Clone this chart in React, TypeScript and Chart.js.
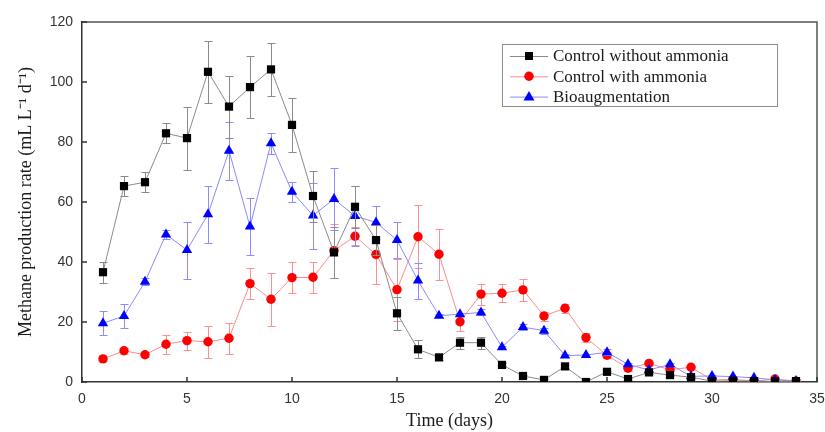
import React, { useEffect, useRef } from "react";
import { Chart, registerables } from "chart.js";

Chart.register(...registerables);

// ---- Data ----
const days = [1, 2, 3, 4, 5, 6, 7, 8, 9, 10, 11, 12, 13, 14, 15, 16, 17, 18, 19, 20, 21, 22, 23, 24, 25, 26, 27, 28, 29, 30, 31, 32, 33, 34];

const controlWithout = [36.6, 65.3, 66.6, 82.9, 81.3, 103.4, 91.8, 98.3, 104.2, 85.7, 62.0, 43.2, 58.4, 47.3, 22.9, 10.9, 8.2, 13.1, 13.1, 5.7, 2.0, 0.7, 5.2, 0.0, 3.4, 1.0, 3.2, 2.3, 1.6, 0.3, 0.4, 0.3, 0.2, 0.3];
const controlWithoutErr = [3.5, 3.4, 3.4, 3.3, 10.5, 10.4, 10.3, 10.4, 8.8, 8.9, 8.5, 8.5, 7.0, 5.0, 5.5, 3.0, 1.0, 2.0, 2.0, 0.5, 0.5, 0.3, 0.5, 0.2, 0.4, 0.3, 0.4, 0.3, 0.3, 0.2, 0.2, 0.2, 0.2, 0.2];

const controlWith = [7.7, 10.4, 9.1, 12.6, 13.8, 13.4, 14.6, 32.8, 27.6, 34.8, 34.9, 43.8, 48.6, 42.5, 30.8, 48.4, 42.6, 20.1, 29.3, 29.6, 30.7, 22.0, 24.6, 14.8, 8.9, 4.6, 6.2, 4.1, 4.9, 0.7, 0.9, 0.3, 1.0, 0.3];
const controlWithErr = [0.8, 1.0, 0.8, 3.2, 3.0, 5.3, 5.2, 5.1, 8.8, 5.2, 5.2, 9.0, 3.0, 9.7, 10.3, 10.5, 8.5, 3.0, 3.5, 3.0, 3.6, 1.5, 1.5, 1.5, 1.0, 1.0, 0.5, 0.5, 0.5, 0.3, 0.3, 0.2, 0.3, 0.2];

const bioaugmentation = [19.6, 22.0, 33.4, 49.2, 44.0, 55.9, 77.1, 51.8, 79.6, 63.4, 55.5, 61.0, 55.3, 53.2, 47.3, 33.8, 22.1, 22.6, 23.2, 11.6, 18.3, 17.1, 8.8, 9.0, 9.9, 5.9, 4.0, 5.9, 1.9, 2.0, 1.8, 1.4, 0.7, 0.3];
const bioaugmentationErr = [4.0, 4.0, 1.2, 1.5, 9.5, 9.4, 9.7, 9.5, 3.5, 3.4, 11.0, 10.5, 10.0, 5.6, 6.0, 6.0, 0.5, 0.5, 1.0, 0.5, 1.0, 1.0, 0.5, 0.5, 1.0, 0.5, 0.5, 0.5, 0.3, 0.3, 0.3, 0.3, 0.2, 0.2];

const seriesLabels = ["Control without ammonia", "Control with ammonia", "Bioaugmentation"];
const xTickMax = 35;
const yTickMax = 120;

const SERIF = "'Liberation Serif', 'Times New Roman', serif";
const SANS = "'Liberation Sans', Arial, sans-serif";

const styles = [
  { line: "#8a8a8a", err: "#8a8a8a", fill: "#000000", shape: "rect", radius: 5.8 },
  { line: "#ff8a8a", err: "#ff8f8f", fill: "#ff0000", shape: "circle", radius: 4.7 },
  { line: "#8a8aff", err: "#8c8cff", fill: "#0000ff", shape: "triangle", radius: 6 },
];

function drawMarker(ctx: CanvasRenderingContext2D, shape: string, x: number, y: number, color: string) {
  ctx.save();
  ctx.fillStyle = color;
  ctx.beginPath();
  if (shape === "rect") {
    ctx.rect(x - 4, y - 4, 8, 8);
  } else if (shape === "circle") {
    ctx.arc(x, y, 4.7, 0, Math.PI * 2);
  } else {
    ctx.moveTo(x, y - 5.5);
    ctx.lineTo(x + 5.5, y + 4);
    ctx.lineTo(x - 5.5, y + 4);
    ctx.closePath();
  }
  ctx.fill();
  ctx.restore();
}

const errorBarPlugin = {
  id: "errorBars",
  beforeDatasetDraw(chart: any, args: any) {
    const ds = chart.data.datasets[args.index];
    const errs: number[] = ds.errors;
    if (!errs) return;
    const xs = chart.scales.x;
    const ys = chart.scales.y;
    const ctx = chart.ctx as CanvasRenderingContext2D;
    ctx.save();
    ctx.strokeStyle = ds.errorColor;
    ctx.lineWidth = 1;
    ds.data.forEach((p: any, i: number) => {
      const e = errs[i];
      if (!e) return;
      const px = Math.round(xs.getPixelForValue(p.x)) + 0.5;
      const top = Math.round(ys.getPixelForValue(p.y + e)) + 0.5;
      const bot = Math.round(ys.getPixelForValue(Math.max(0, p.y - e))) + 0.5;
      ctx.beginPath();
      ctx.moveTo(px, top);
      ctx.lineTo(px, bot);
      ctx.moveTo(px - 4, top);
      ctx.lineTo(px + 4, top);
      ctx.moveTo(px - 4, bot);
      ctx.lineTo(px + 4, bot);
      ctx.stroke();
    });
    ctx.restore();
  },
};

const framePlugin = {
  id: "frame",
  beforeDatasetsDraw(chart: any) {
    const { ctx, chartArea } = chart;
    const { left, right, top, bottom } = chartArea;
    ctx.save();
    ctx.strokeStyle = "#555555";
    ctx.lineWidth = 1.5;
    ctx.beginPath();
    ctx.moveTo(left, top);
    ctx.lineTo(right, top);
    ctx.lineTo(right, bottom);
    ctx.stroke();
    // inward ticks
    ctx.strokeStyle = "#333333";
    ctx.lineWidth = 1.5;
    ctx.beginPath();
    chart.scales.x.ticks.forEach((t: any) => {
      const px = chart.scales.x.getPixelForValue(t.value);
      ctx.moveTo(px, bottom);
      ctx.lineTo(px, bottom - 5);
    });
    chart.scales.y.ticks.forEach((t: any) => {
      const py = chart.scales.y.getPixelForValue(t.value);
      ctx.moveTo(left, py);
      ctx.lineTo(left + 5, py);
    });
    ctx.stroke();
    ctx.restore();
  },
};

const legendPlugin = {
  id: "boxLegend",
  afterDraw(chart: any) {
    const ctx = chart.ctx as CanvasRenderingContext2D;
    const x0 = 502, y0 = 44, w = 275, h = 62;
    ctx.save();
    ctx.fillStyle = "#ffffff";
    ctx.fillRect(x0, y0, w, h);
    ctx.strokeStyle = "#8c8c8c";
    ctx.lineWidth = 1;
    ctx.strokeRect(x0 + 0.5, y0 + 0.5, w, h);
    seriesLabels.forEach((label, i) => {
      const y = y0 + 12 + i * 20.3;
      const st = styles[i];
      ctx.strokeStyle = st.line;
      ctx.lineWidth = 1;
      ctx.beginPath();
      ctx.moveTo(510, y + 0.5);
      ctx.lineTo(548, y + 0.5);
      ctx.stroke();
      drawMarker(ctx, st.shape, 529, y, st.fill);
      ctx.fillStyle = "#1a1a1a";
      ctx.font = `17px ${SERIF}`;
      ctx.textBaseline = "middle";
      ctx.textAlign = "left";
      ctx.fillText(label, 553, y + 1);
    });
    ctx.restore();
  },
};

export default function App() {
  const canvasRef = useRef<HTMLCanvasElement | null>(null);

  useEffect(() => {
    document.body.style.margin = "0";
    const canvas = canvasRef.current;
    if (!canvas) return;
    const allSeries = [controlWithout, controlWith, bioaugmentation];
    const allErrs = [controlWithoutErr, controlWithErr, bioaugmentationErr];
    const orders = [0, 2, 1];
    const datasets = allSeries.map((vals, i) => ({
      label: seriesLabels[i],
      data: days.map((d, j) => ({ x: d, y: vals[j] })),
      errors: allErrs[i],
      errorColor: styles[i].err,
      borderColor: styles[i].line,
      borderWidth: 1,
      backgroundColor: styles[i].fill,
      pointBackgroundColor: styles[i].fill,
      pointBorderColor: styles[i].fill,
      pointBorderWidth: 0,
      pointStyle: styles[i].shape,
      pointRadius: styles[i].radius,
      tension: 0,
      order: orders[i],
    }));

    const chart = new Chart(canvas, {
      type: "line",
      data: { datasets } as any,
      options: {
        animation: false,
        responsive: false,
        maintainAspectRatio: false,
        layout: { padding: { top: 22, right: 8, left: 0, bottom: 0 } },
        plugins: {
          legend: { display: false },
          tooltip: { enabled: false },
        },
        scales: {
          x: {
            type: "linear",
            min: 0,
            max: xTickMax,
            ticks: { stepSize: 5, font: { family: SANS, size: 14 }, color: "#333333", padding: 9 },
            grid: { display: false, drawTicks: false },
            border: { display: true, color: "#333333", width: 1.5 },
            title: {
              display: true,
              text: "Time (days)",
              font: { family: SERIF, size: 18 },
              color: "#1a1a1a",
              padding: { top: 0, bottom: 0 },
            },
            afterFit: (s: any) => {
              s.height = 50;
              s.paddingLeft = 0;
              s.paddingRight = 0;
            },
          },
          y: {
            type: "linear",
            min: 0,
            max: yTickMax,
            ticks: { stepSize: 20, font: { family: SANS, size: 14 }, color: "#333333", padding: 9 },
            grid: { display: false, drawTicks: false },
            border: { display: true, color: "#333333", width: 1.5 },
            title: {
              display: true,
              text: "Methane production rate (mL L\u207B\u00B9 d\u207B\u00B9)",
              font: { family: SERIF, size: 18 },
              color: "#1a1a1a",
              padding: { top: 15, bottom: 0 },
            },
            afterFit: (s: any) => {
              s.width = 82;
              s.paddingTop = 0;
              s.paddingBottom = 0;
            },
          },
        },
      } as any,
      plugins: [errorBarPlugin, framePlugin, legendPlugin],
    });
    return () => chart.destroy();
  }, []);

  return (
    <div style={{ width: 825, height: 432, background: "#ffffff" }}>
      <canvas ref={canvasRef} width={825} height={432} />
    </div>
  );
}
